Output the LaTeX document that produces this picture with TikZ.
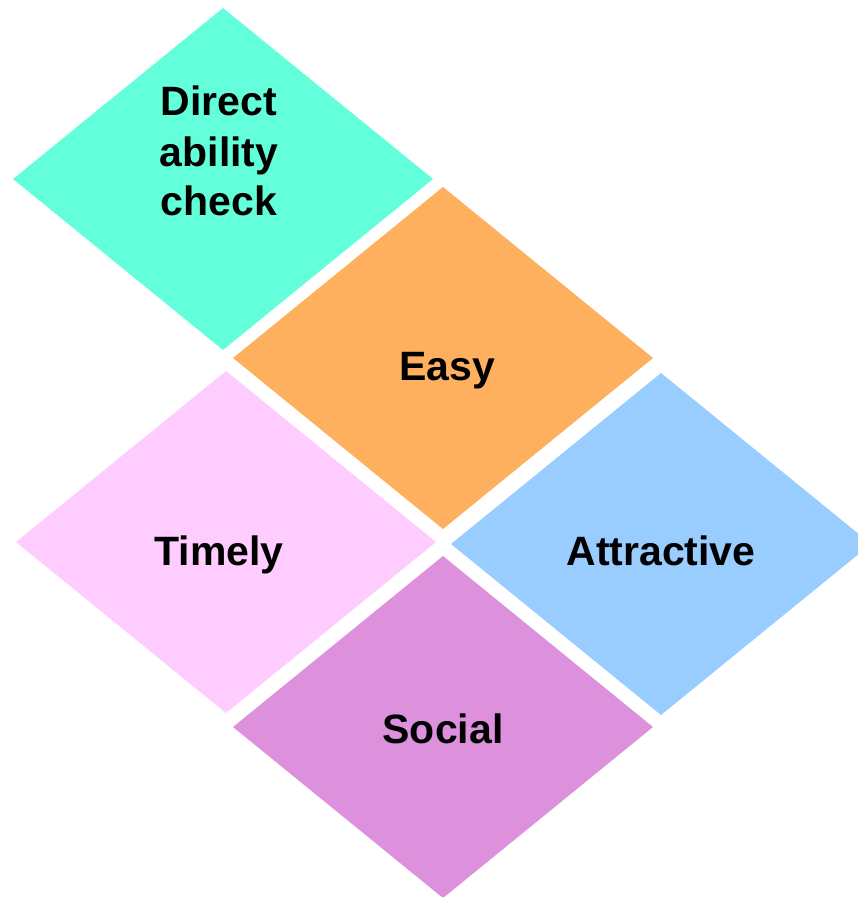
\documentclass[tikz,border=0pt]{standalone}
\usepackage{fontspec}
\setmainfont{Liberation Sans}
\definecolor{cteal}{RGB}{99,255,219}
\definecolor{corange}{RGB}{255,176,95}
\definecolor{cpink}{RGB}{255,204,255}
\definecolor{cblue}{RGB}{153,204,255}
\definecolor{cpurple}{RGB}{221,145,221}
\begin{document}
\begin{tikzpicture}[x=1pt,y=-1pt,
  lbl/.style={font=\fontsize{41}{50}\selectfont\bfseries, align=center, anchor=base, inner sep=0pt}]
\useasboundingbox (0,0) rectangle (858,897);
\begin{scope}
\clip (0,0) rectangle (858,897);
\coordinate (cd) at (223,179);
\coordinate (ce) at (443,358);
\coordinate (ct) at (226,542);
\coordinate (ca) at (661,544);
\coordinate (cs) at (443,727);
\fill[cteal]   (cd) +(-210,0) -- +(0,-171) -- +(210,0) -- +(0,171) -- cycle;
\fill[corange] (ce) +(-210,0) -- +(0,-171) -- +(210,0) -- +(0,171) -- cycle;
\fill[cpink]   (ct) +(-210,0) -- +(0,-171) -- +(210,0) -- +(0,171) -- cycle;
\fill[cblue]   (ca) +(-210,0) -- +(0,-171) -- +(210,0) -- +(0,171) -- cycle;
\fill[cpurple] (cs) +(-210,0) -- +(0,-171) -- +(210,0) -- +(0,171) -- cycle;
\end{scope}
\node[lbl] (td1) at (219,115) {Direct};
\node[lbl] (td2) at (219,166) {ability};
\node[lbl] (td3) at (219,215) {check};
\node[lbl] (te) at (447,380) {Easy};
\node[lbl] (tt) at (219,565) {Timely};
\node[lbl] (ta) at (661,565) {Attractive};
\node[lbl] (ts) at (443,743) {Social};
\end{tikzpicture}
\end{document}
